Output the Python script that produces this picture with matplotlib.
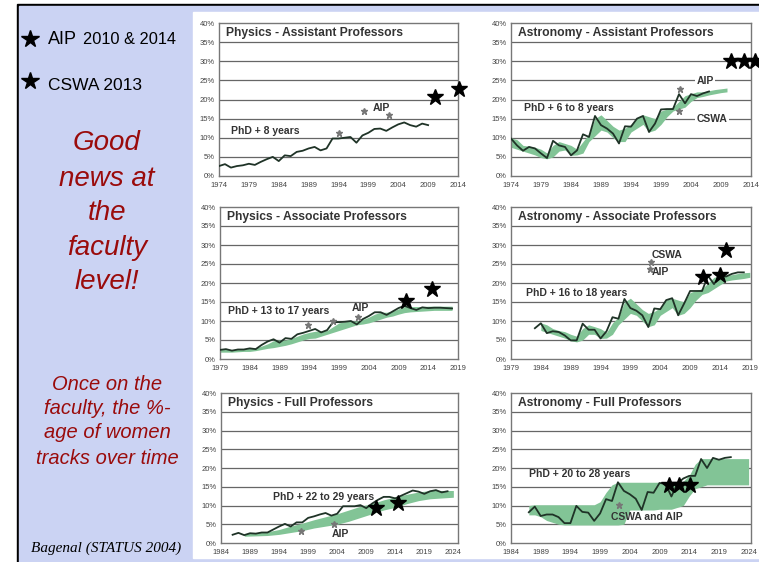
import matplotlib.pyplot as plt
from matplotlib.patches import Rectangle

W, H = 759, 562

# ---- data: % women faculty by year ----
# Physics - Assistant Professors
pa_years = list(range(1974, 2010))
pa_pct = [2.6, 3.1, 2.2, 2.6, 2.8, 3.2, 2.9, 3.7, 4.4, 5.0, 3.9, 5.4, 5.2, 6.3, 6.6,
          7.2, 7.6, 6.7, 7.2, 9.8, 9.8, 10.0, 10.2, 8.7, 10.6, 11.3, 12.3, 12.4, 11.8,
          12.7, 13.5, 14.0, 13.3, 12.9, 13.7, 13.3]
pa_aip_years = [1994.0, 1998.2, 2002.4]
pa_aip_pct = [11.3, 17.1, 15.9]
pa_star_years = [2010.1, 2014.2]
pa_star_pct = [20.7, 22.8]

# Astronomy - Assistant Professors
aa_years = list(range(1974, 2008))
aa_pct = [9.8, 8.0, 6.6, 7.6, 7.2, 5.9, 4.7, 9.2, 8.0, 7.6, 5.4, 6.7, 10.9, 10.2, 15.7,
          13.3, 12.4, 11.1, 8.5, 13.0, 12.9, 15.0, 15.7, 11.5, 13.7, 17.4, 17.5, 17.5,
          21.4, 19.0, 21.4, 20.9, 21.6, 22.1]
aa_band_years = list(range(1974, 2011))
aa_band_lo = [7.5, 7.0, 6.5, 6.0, 5.5, 4.8, 4.5, 5.0, 6.5, 6.8, 5.4, 5.5, 6.0, 9.0, 10.5,
              12.0, 11.5, 10.0, 9.0, 9.0, 11.5, 12.5, 13.5, 11.5, 12.0, 13.5, 15.5, 17.0,
              17.5, 18.0, 19.5, 20.5, 20.8, 21.2, 21.5, 21.8, 22.0]
aa_band_hi = [10.0, 9.5, 8.0, 7.8, 7.5, 7.0, 6.0, 8.0, 9.0, 8.5, 8.0, 7.0, 9.0, 11.0, 15.0,
              16.0, 14.5, 13.0, 12.0, 12.5, 13.5, 15.0, 16.0, 15.5, 15.0, 17.0, 17.5, 18.0,
              19.5, 21.0, 21.5, 22.0, 22.0, 22.3, 22.6, 22.8, 23.0]
aa_aip = (2002.1, 22.7)
aa_cswa = (2002.0, 17.0)
aa_star_years = [2010.6, 2012.8, 2014.6]
aa_star_pct = [30.0, 30.0, 30.0]

# Physics - Associate Professors
pb_years = list(range(1979, 2019))
pb_pct = [2.4, 2.6, 2.2, 2.5, 2.5, 2.8, 2.6, 3.7, 4.6, 5.2, 4.3, 5.5, 5.3, 6.5, 6.9,
          7.4, 7.9, 7.0, 7.6, 9.7, 9.7, 9.8, 10.0, 9.1, 10.5, 11.3, 12.3, 12.3, 11.6,
          12.5, 13.4, 14.0, 13.4, 12.9, 13.6, 13.4, 13.5, 13.5, 13.4, 13.3]
pb_band_lo = [1.8, 1.8, 1.8, 1.9, 2.0, 2.0, 2.2, 2.5, 2.8, 3.0, 3.3, 3.6, 4.0, 4.5, 5.0,
              5.4, 5.5, 6.0, 6.5, 7.0, 7.5, 8.0, 8.5, 9.0, 9.2, 9.5, 10.0, 10.5, 11.0,
              11.3, 11.8, 12.2, 12.4, 12.5, 12.6, 12.7, 12.8, 12.8, 12.8, 12.8]
pb_band_hi = [2.6, 2.6, 2.5, 2.5, 2.6, 2.8, 2.9, 3.4, 4.0, 4.8, 5.0, 5.0, 5.4, 6.0, 6.6,
              7.0, 7.3, 7.4, 7.5, 8.5, 9.5, 9.8, 10.0, 10.0, 10.4, 11.0, 11.8, 12.3, 12.3,
              12.6, 13.2, 13.8, 13.8, 13.8, 13.8, 13.9, 13.9, 13.9, 13.9, 13.9]
pb_aip_years = [1993.8, 1998.0, 2002.2]
pb_aip_pct = [9.0, 10.0, 11.0]
pb_star_years = [2010.2, 2014.6]
pb_star_pct = [15.3, 18.3]

# Astronomy - Associate Professors
ab_years = list(range(1983, 2019))
ab_pct = [8.1, 9.4, 6.8, 7.3, 7.1, 6.2, 4.9, 4.9, 9.3, 7.7, 7.7, 5.4, 7.3, 11.0, 10.6,
          15.8, 13.4, 12.7, 11.5, 8.4, 13.3, 13.1, 15.5, 16.0, 11.5, 14.6, 17.9, 17.9,
          17.9, 21.9, 19.7, 22.1, 21.7, 22.4, 22.8, 22.8]
ab_band_years = list(range(1984, 2020))
ab_band_lo = [7.5, 7.0, 6.5, 6.0, 5.5, 4.8, 4.5, 5.0, 6.5, 6.5, 5.4, 5.5, 6.5, 9.0, 10.5,
              12.0, 11.5, 10.0, 8.5, 9.0, 11.5, 12.5, 13.5, 11.5, 12.0, 13.5, 15.5, 17.0,
              17.5, 18.5, 19.5, 20.5, 20.8, 21.0, 21.2, 21.5]
ab_band_hi = [9.5, 9.0, 8.0, 7.5, 7.2, 6.5, 6.0, 8.0, 9.0, 8.5, 8.0, 7.0, 9.5, 11.0, 15.0,
              16.0, 14.5, 13.0, 12.0, 12.5, 13.5, 15.5, 16.0, 15.5, 15.0, 17.5, 18.0, 18.5,
              20.0, 21.5, 21.8, 22.0, 22.2, 22.5, 22.7, 22.8]
ab_cswa = (2002.4, 25.4)
ab_aip = (2002.2, 23.6)
ab_star_years = [2011.1, 2014.0, 2015.0]
ab_star_pct = [21.7, 22.1, 28.7]

# Physics - Full Professors
pc_years = list(range(1986, 2024))
pc_pct = [2.2, 2.7, 2.1, 2.6, 2.5, 2.8, 2.8, 3.6, 4.4, 5.1, 4.4, 5.5, 5.5, 6.7, 7.1,
          7.6, 8.0, 7.3, 7.8, 9.8, 9.8, 9.8, 10.1, 9.3, 10.5, 11.5, 12.3, 12.3, 11.9,
          12.6, 13.3, 14.0, 13.7, 13.1, 13.8, 14.1, 13.5, 13.8]
pc_band_years = list(range(1988, 2025, 2))
pc_band_lo = [1.8, 1.9, 2.0, 2.3, 2.8, 3.3, 4.0, 4.5, 5.0, 5.8, 6.8, 7.8, 8.8, 9.5, 10.5,
              11.3, 11.8, 12.0, 12.2]
pc_band_hi = [2.5, 2.7, 3.0, 3.6, 4.5, 5.3, 6.2, 7.0, 7.8, 8.8, 9.8, 10.5, 11.5, 12.3, 13.0,
              13.6, 14.0, 14.0, 14.0]
pc_aip_years = [1997.7, 2003.4]
pc_aip_pct = [3.1, 5.2]
pc_star_years = [2010.7, 2014.5]
pc_star_pct = [9.3, 10.8]

# Astronomy - Full Professors
ac_years = list(range(1987, 2022))
ac_pct = [8.2, 9.7, 7.2, 7.6, 7.6, 6.9, 5.3, 5.3, 9.9, 8.3, 8.1, 5.9, 7.9, 11.7, 11.2,
          16.2, 13.9, 13.0, 11.8, 8.8, 13.6, 13.4, 16.0, 15.8, 12.4, 15.8, 17.2, 17.9,
          17.9, 22.4, 20.0, 22.7, 22.2, 22.7, 22.9]
ac_band_years = list(range(1987, 2025))
ac_band_lo = [7.5, 7.5, 7.0, 6.0, 5.5, 5.0, 4.8, 4.8, 4.8, 4.8, 4.8, 4.8, 4.8, 4.8, 4.8,
              4.8, 5.0, 8.8, 8.8, 8.8, 8.8, 8.8, 9.0, 9.0, 9.0, 9.5, 10.0, 12.5, 14.5,
              15.0, 15.5, 15.5, 15.5, 15.5, 15.5, 15.5, 15.5, 15.5]
ac_band_hi = [10.0, 10.2, 10.2, 10.2, 10.2, 10.2, 10.2, 10.2, 10.2, 10.2, 10.2, 10.2, 11.0,
              13.5, 15.5, 16.2, 16.2, 16.2, 16.2, 16.2, 16.2, 16.2, 16.2, 16.2, 16.2, 16.2,
              16.5, 18.0, 21.0, 22.5, 22.5, 22.5, 22.5, 22.5, 22.5, 22.5, 22.5, 22.5]
ac_mark = (2002.1, 10.2)
ac_star_years = [2010.6, 2012.2, 2014.1]
ac_star_pct = [15.4, 15.4, 15.6]

yticks = [0, 5, 10, 15, 20, 25, 30, 35, 40]

plt.rcParams['font.family'] = ['Liberation Sans', 'DejaVu Sans']

fig = plt.figure(figsize=(W / 100, H / 100), dpi=100)
fig.patch.set_facecolor('white')

# slide background, borders and white chart area (pixel coordinates)
bg = fig.add_axes([0, 0, 1, 1], zorder=-10)
bg.set_xlim(0, W)
bg.set_ylim(H, 0)
bg.axis('off')
bg.add_patch(Rectangle((17, 4), W - 17, H - 4, color='black'))
bg.add_patch(Rectangle((19, 6), W - 19, H - 6, color='#cbd3f3'))
bg.add_patch(Rectangle((193, 12), W - 193, 546, color='white'))

# left column text
bg.plot([30, 30], [39, 81], ls='none', marker='*', ms=13, color='black')
bg.text(48, 44.5, 'AIP', fontsize=13, va='baseline', ha='left')
bg.text(83, 44.5, '2010 & 2014', fontsize=11.8, va='baseline', ha='left')
bg.text(48, 89.5, 'CSWA 2013', fontsize=12.5, va='baseline', ha='left')
red = '#9a0b0b'
for txt, yy in zip(['Good', 'news at', 'the', 'faculty', 'level!'], [143, 179, 213, 248, 282]):
    bg.text(107, yy, txt, fontsize=20, style='italic', color=red, ha='center', va='center')
for txt, yy in zip(['Once on the', 'faculty, the %-', 'age of women', 'tracks over time'],
                   [385, 409, 433, 458]):
    bg.text(107, yy, txt, fontsize=14.5, style='italic', color=red, ha='center', va='center')
bg.text(106, 548, 'Bagenal (STATUS 2004)', fontsize=11, style='italic',
        family='Liberation Serif', ha='center', va='center')

line_c = '#1f3327'
band_c = '#82c496'
txt_c = '#333333'


def panel(left, top, right, bottom, xlim, xticks, title):
    ax = fig.add_axes([left / W, 1 - bottom / H, (right - left) / W, (bottom - top) / H])
    ax.set_xlim(*xlim)
    ax.set_ylim(0, 40)
    ax.set_yticks(yticks)
    ax.set_yticklabels(['%d%%' % v for v in yticks])
    ax.set_xticks(xticks)
    ax.tick_params(length=0, labelsize=5.5, labelcolor='#444444')
    ax.tick_params(axis='x', pad=4)
    ax.tick_params(axis='y', pad=3)
    for v in yticks[1:-1]:
        ax.axhline(v, color='#666666', lw=0.9, zorder=1)
    for s in ax.spines.values():
        s.set_color('#777777')
        s.set_linewidth(1.0)
    ax.text(0.03, 0.932, title, transform=ax.transAxes, fontsize=8.7, fontweight='bold',
            color=txt_c, va='center', ha='left')
    return ax


def stars(ax, xs, ys):
    ax.plot(xs, ys, ls='none', marker='*', ms=12, color='black', zorder=6, clip_on=False)


def marks(ax, xs, ys):
    ax.plot(xs, ys, ls='none', marker='*', ms=5, color='#777777', zorder=5)


lab = dict(fontsize=7.5, fontweight='bold', color=txt_c, va='center', ha='left', zorder=5)
white = dict(facecolor='white', edgecolor='none', pad=1.0)

# Physics - Assistant
ax = panel(219, 23, 458, 176, (1974, 2014), range(1974, 2015, 5), 'Physics - Assistant Professors')
ax.plot(pa_years, pa_pct, color=line_c, lw=1.3, zorder=3)
marks(ax, pa_aip_years, pa_aip_pct)
ax.text(1999.7, 17.8, 'AIP', **lab)
ax.text(1976.0, 11.8, 'PhD + 8 years', **lab)
stars(ax, pa_star_years, pa_star_pct)

# Astronomy - Assistant
ax = panel(511, 23, 751, 176, (1974, 2014), range(1974, 2015, 5), 'Astronomy - Assistant Professors')
ax.fill_between(aa_band_years, aa_band_lo, aa_band_hi, color=band_c, lw=0, zorder=2)
ax.plot(aa_years, aa_pct, color=line_c, lw=1.3, zorder=3)
marks(ax, [aa_aip[0], aa_cswa[0]], [aa_aip[1], aa_cswa[1]])
ax.text(2004.9, 24.8, 'AIP', bbox=white, **lab)
ax.text(2004.9, 15.0, 'CSWA', bbox=white, **lab)
ax.text(1976.2, 17.7, 'PhD + 6 to 8 years', **lab)
stars(ax, aa_star_years, aa_star_pct)

# Physics - Associate
ax = panel(220, 207, 458, 359, (1979, 2019), range(1979, 2020, 5), 'Physics - Associate Professors')
ax.fill_between(pb_years, pb_band_lo, pb_band_hi, color=band_c, lw=0, zorder=2)
ax.plot(pb_years, pb_pct, color=line_c, lw=1.3, zorder=3)
marks(ax, pb_aip_years, pb_aip_pct)
ax.text(2001.1, 13.4, 'AIP', **lab)
ax.text(1980.3, 12.5, 'PhD + 13 to 17 years', **lab)
stars(ax, pb_star_years, pb_star_pct)

# Astronomy - Associate
ax = panel(511, 207, 751, 359, (1979, 2019.2), range(1979, 2020, 5), 'Astronomy - Associate Professors')
ax.fill_between(ab_band_years, ab_band_lo, ab_band_hi, color=band_c, lw=0, zorder=2)
ax.plot(ab_years, ab_pct, color=line_c, lw=1.3, zorder=3)
marks(ax, [ab_cswa[0], ab_aip[0]], [ab_cswa[1], ab_aip[1]])
ax.text(2002.5, 27.3, 'CSWA', **lab)
ax.text(2002.6, 23.0, 'AIP', **lab)
ax.text(1981.5, 17.5, 'PhD + 16 to 18 years', **lab)
stars(ax, ab_star_years, ab_star_pct)

# Physics - Full
ax = panel(221, 393, 458, 543, (1984, 2024.8), range(1984, 2025, 5), 'Physics - Full Professors')
ax.fill_between(pc_band_years, pc_band_lo, pc_band_hi, color=band_c, lw=0, zorder=2)
ax.plot(pc_years, pc_pct, color=line_c, lw=1.3, zorder=3)
marks(ax, pc_aip_years, pc_aip_pct)
ax.text(2003.0, 2.5, 'AIP', **lab)
ax.text(1992.9, 12.4, 'PhD + 22 to 29 years', **lab)
stars(ax, pc_star_years, pc_star_pct)

# Astronomy - Full
ax = panel(511, 393, 751, 543, (1984, 2024.4), range(1984, 2025, 5), 'Astronomy - Full Professors')
ax.fill_between(ac_band_years, ac_band_lo, ac_band_hi, color=band_c, lw=0, zorder=2)
ax.plot(ac_years, ac_pct, color=line_c, lw=1.3, zorder=3)
marks(ax, [ac_mark[0]], [ac_mark[1]])
ax.text(2000.9, 6.9, 'CSWA and AIP', **lab)
ax.text(1987.1, 18.3, 'PhD + 20 to 28 years', **lab)
stars(ax, ac_star_years, ac_star_pct)

fig.savefig('out.png', dpi=100)
